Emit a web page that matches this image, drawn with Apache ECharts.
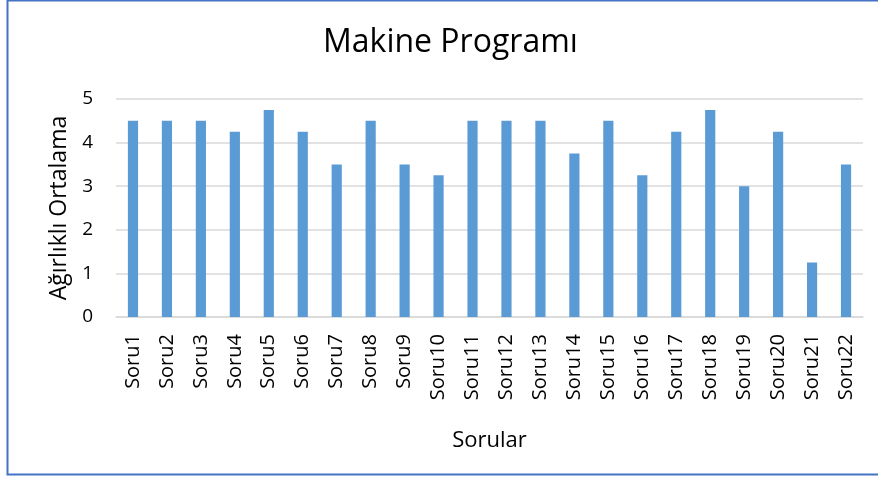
<!DOCTYPE html>
<html>
<head>
<meta charset="utf-8">
<script src="https://cdn.jsdelivr.net/npm/echarts@6/dist/echarts.min.js"></script>
<style>
	html, body { margin: 0; padding: 0; background: #fff; }
	#chart { width: 878px; height: 477px; }
</style>
</head>
<body>
<div id="chart"></div>
<script>
var categories = ['Soru1', 'Soru2', 'Soru3', 'Soru4', 'Soru5', 'Soru6', 'Soru7', 'Soru8', 'Soru9', 'Soru10', 'Soru11',
	'Soru12', 'Soru13', 'Soru14', 'Soru15', 'Soru16', 'Soru17', 'Soru18', 'Soru19', 'Soru20', 'Soru21', 'Soru22'];
var values = [4.5, 4.5, 4.5, 4.25, 4.75, 4.25, 3.5, 4.5, 3.5, 3.25, 4.5,
	4.5, 4.5, 3.75, 4.5, 3.25, 4.25, 4.75, 3.0, 4.25, 1.25, 3.5];
var titleText = 'Makine Programı';
var yName = 'Ağırlıklı Ortalama';
var xName = 'Sorular';

var font = '"Open Sans", "Noto Sans", sans-serif';
var myChart = echarts.init(document.getElementById('chart'));
var option = {
	animation: false,
	backgroundColor: '#fff',
	title: {
		text: titleText,
		left: 318,
		top: 22,
		textStyle: {
			fontFamily: font,
			fontSize: 32,
			fontWeight: 'normal',
			color: '#000'
		}
	},
	// rahmen
	graphic: [{
		type: 'rect',
		shape: { x: 7.5, y: 0.5, width: 900, height: 474 },
		style: { fill: 'none', stroke: '#4472C4', lineWidth: 2 },
		silent: true
	}],
	grid: {
		left: 116,
		right: 15,
		top: 99,
		bottom: 160
	},
	xAxis: {
		type: 'category',
		data: categories,
		name: xName,
		nameLocation: 'middle',
		nameGap: 113,
		nameTextStyle: { fontFamily: font, fontSize: 22, color: '#000' },
		axisTick: { show: false },
		axisLine: { lineStyle: { color: '#D9D9D9', width: 1.5 } },
		axisLabel: {
			rotate: 90,
			interval: 0,
			margin: 17,
			fontFamily: font,
			fontSize: 20,
			color: '#000'
		}
	},
	yAxis: {
		type: 'value',
		min: 0,
		max: 5,
		interval: 1,
		name: yName,
		nameLocation: 'middle',
		nameGap: 44,
		nameTextStyle: { fontFamily: font, fontSize: 23, color: '#000' },
		axisLine: { show: false },
		axisTick: { show: false },
		axisLabel: { fontFamily: font, fontSize: 19, color: '#000', margin: 23 },
		splitLine: { lineStyle: { color: '#D9D9D9', width: 1.5 } }
	},
	series: [{
		type: 'bar',
		data: values,
		barWidth: '30%',
		itemStyle: { color: '#5B9BD5' }
	}]
};
myChart.setOption(option);
</script>
</body>
</html>
